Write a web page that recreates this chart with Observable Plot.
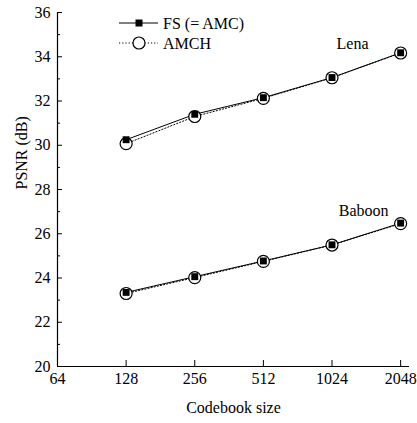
<!DOCTYPE html>
<html>
<head>
<meta charset="utf-8">
<script src="https://cdn.jsdelivr.net/npm/d3@7"></script>
<script src="https://cdn.jsdelivr.net/npm/@observablehq/plot@0.6"></script>
<style>
  body { margin: 0; background: #fff; }
  #wrap { position: relative; width: 417px; height: 423px; font-family: "Liberation Serif", "DejaVu Serif", serif; }
  #legend { position: absolute; left: 0; top: 0; }
</style>
</head>
<body>
<div id="wrap"></div>
<script>
// ---- data ----
const codebookSizes = [128, 256, 512, 1024, 2048];
const lenaFS     = [30.25, 31.40, 32.15, 33.06, 34.18];
const lenaAMCH   = [30.07, 31.30, 32.12, 33.05, 34.17];
const baboonFS   = [23.35, 24.06, 24.77, 25.50, 26.48];
const baboonAMCH = [23.30, 24.02, 24.75, 25.49, 26.46];
const xTicks = [64, 128, 256, 512, 1024, 2048];
const yTicks = [20, 22, 24, 26, 28, 30, 32, 34, 36];
const yMinorTicks = [21, 23, 25, 27, 29, 31, 33, 35];
const imageLabels = ["Lena", "Baboon"];
const labelX = [1260, 1410];
const labelY = [34.6, 27.05];
const legendLabels = ["FS (= AMC)", "AMCH"];

const rows = (vals, image, method) => codebookSizes.map((s, i) => ({size: s, psnr: vals[i], image, method}));
const fs = [...rows(lenaFS, "Lena", "FS"), ...rows(baboonFS, "Baboon", "FS")];
const amch = [...rows(lenaAMCH, "Lena", "AMCH"), ...rows(baboonAMCH, "Baboon", "AMCH")];
const labels = imageLabels.map((t, i) => ({t, x: labelX[i], y: labelY[i]}));

const font = "Liberation Serif";
const fsz = 16;
const chart = Plot.plot({
  width: 417,
  height: 423,
  marginLeft: 57,
  marginRight: 8,
  marginTop: 12,
  marginBottom: 57,
  style: {fontFamily: font, fontSize: fsz + "px", color: "#000", background: "#fff"},
  x: {type: "log", base: 2, domain: [64, 2240]},
  y: {domain: [20, 36]},
  marks: [
    Plot.axisY({ticks: yTicks, tickSize: -5, tickPadding: 12, tickFormat: d => String(d), fontSize: fsz, label: null}),
    Plot.axisY({ticks: yMinorTicks, tickSize: -3, tickFormat: () => "", label: null}),
    Plot.axisX({ticks: xTicks.slice(1), tickSize: -6, tickPadding: 12, tickFormat: d => String(d), fontSize: fsz, label: null}),
    Plot.axisX({ticks: [64], tickSize: 0, tickPadding: 6, tickFormat: d => String(d), fontSize: fsz, label: null}),
    Plot.text(["PSNR (dB)"], {frameAnchor: "left", rotate: -90, dx: -36, fontSize: fsz}),
    Plot.text(["Codebook size"], {frameAnchor: "bottom", dy: 46, fontSize: fsz}),
    Plot.ruleX([64], {y1: 20, y2: 36, stroke: "#000", strokeWidth: 1.2}),
    Plot.ruleY([20], {x1: 64, x2: 2240, stroke: "#000", strokeWidth: 1.2}),
    Plot.line(amch, {x: "size", y: "psnr", z: "image", stroke: "#000", strokeWidth: 1, strokeDasharray: "1.2,2"}),
    Plot.line(fs, {x: "size", y: "psnr", z: "image", stroke: "#000", strokeWidth: 1}),
    Plot.dot(amch, {x: "size", y: "psnr", r: 6, fill: "#fff", stroke: "#000", strokeWidth: 1.2}),
    Plot.dot(fs, {x: "size", y: "psnr", symbol: "square", r: 3.9, fill: "#000", stroke: "none"}),
    Plot.text(labels, {x: "x", y: "y", text: "t", fontSize: fsz})
  ]
});
document.getElementById("wrap").appendChild(chart);

// legend overlay
const lg = d3.create("svg").attr("id", "legend").attr("width", 417).attr("height", 60)
  .style("font-family", font).style("font-size", fsz + "px");
legendLabels.forEach((t, i) => {
  const y = 23 + i * 20;
  lg.append("line").attr("x1", 119).attr("x2", 158).attr("y1", y).attr("y2", y)
    .attr("stroke", "#000").attr("stroke-width", 1)
    .attr("stroke-dasharray", i === 0 ? null : "1.2,2");
  if (i === 0) {
    lg.append("rect").attr("x", 139 - 3.5).attr("y", y - 3.5).attr("width", 7).attr("height", 7).attr("fill", "#000");
  } else {
    lg.append("circle").attr("cx", 139).attr("cy", y).attr("r", 6).attr("fill", "#fff").attr("stroke", "#000").attr("stroke-width", 1.2);
  }
  lg.append("text").attr("x", 163).attr("y", y).attr("dy", "0.35em").text(t);
});
document.getElementById("wrap").appendChild(lg.node());
</script>
</body>
</html>
